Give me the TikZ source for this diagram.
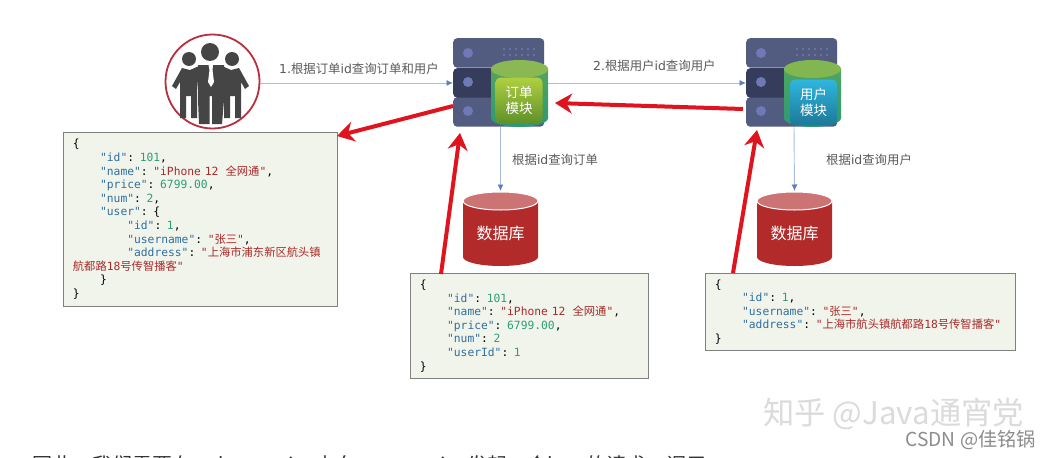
\documentclass[tikz,border=0pt]{standalone}
\usepackage{fontspec}
\setmainfont{DejaVu Sans}
\setmonofont{DejaVu Sans Mono}
\newfontfamily\cjk{Noto Sans CJK SC}
\usetikzlibrary{arrows.meta}
\definecolor{srvlight}{HTML}{525B80}
\definecolor{srvdark}{HTML}{363C5C}
\definecolor{srvdot}{HTML}{7079B5}
\definecolor{dbred}{HTML}{B22A2A}
\definecolor{dbtop}{HTML}{CC7474}
\definecolor{linkblue}{HTML}{A9C0DC}
\definecolor{tipblue}{HTML}{5B82B8}
\definecolor{redarrow}{HTML}{E0141F}
\definecolor{labelgray}{HTML}{5A5A5A}
\definecolor{peoplegray}{HTML}{454545}
\definecolor{ringred}{HTML}{B8303F}
\definecolor{jsonbg}{HTML}{F1F4EB}
\definecolor{jsonkey}{HTML}{2F6F9F}
\definecolor{jsonnum}{HTML}{2E9E73}
\definecolor{jsonstr}{HTML}{A82A2A}
\definecolor{greenhi}{HTML}{B0D040}
\definecolor{greenlo}{HTML}{5F9029}
\definecolor{bluehi}{HTML}{30B6DE}
\definecolor{bluelo}{HTML}{1C7897}
\newcommand{\cn}[1]{{\cjk #1}}
\newcommand{\jkey}[1]{\textcolor{jsonkey}{#1}}
\newcommand{\jnum}[1]{\textcolor{jsonnum}{#1}}
\newcommand{\jstr}[1]{\textcolor{jsonstr}{#1}}
\newcommand{\tab}{\hspace*{27.2pt}}
\begin{document}
\begin{tikzpicture}[x=1pt,y=-1pt,
		srvrow/.style={minimum width=91pt,minimum height=29.5pt,rounded corners=4pt,inner sep=0pt,anchor=north west},
		link/.style={draw=linkblue,line width=0.9pt,-{Latex[color=tipblue,length=6.5pt,width=6pt]}},
		back/.style={draw=redarrow,line width=4pt,-{Stealth[length=17pt,width=20pt]}},
		lbl/.style={text=labelgray,font=\fontsize{12.4}{14}\selectfont,inner sep=0pt},
		modbox/.style={rounded corners=5pt,minimum width=47pt,minimum height=46pt,inner sep=0pt,align=center,text=white,font=\cjk\fontsize{13.5}{16.5}\selectfont},
		jsonbox/.style={draw=gray,fill=jsonbg,line width=0.8pt,anchor=north west,align=left,inner xsep=9.5pt,inner ysep=0pt,font=\ttfamily\fontsize{11.3}{13.6}\selectfont}]
		\useasboundingbox (0,0) rectangle (1050,458);
		\clip (0,0) rectangle (1050,458);
		\fill[white] (0,0) rectangle (1050,458);
		% server racks
		\foreach \srv/\sx in {order/453,user/746} {
			\begin{scope}[xshift=\sx pt]
				\node[srvrow,fill=srvlight] (\srv-top) at (0,38) {};
				\node[srvrow,fill=srvlight] (\srv-bot) at (0,97) {};
				\node[srvrow,fill=srvdark] (\srv-mid) at (0,68) {};
				\foreach \ry in {53,82,111} \fill[srvdot] (15,\ry) circle (5);
				\foreach \dx in {51,57,...,81} {
					\fill[srvdot] (\dx,49) circle (1.2);
					\fill[srvdot] (\dx,55) circle (1.2);
				}
			\end{scope}
		}
		% request links
		\node[circle,draw=ringred,line width=1.8pt,fill=white,minimum size=94pt,inner sep=0pt] (people) at (212.5,81.5) {};
		\draw[link] (people.east |- order-mid.west) -- (order-mid.west);
		\draw[link] (order-mid.east) -- (user-mid.west);
		\node[lbl,anchor=west] (ask1) at (279,69) {1.\cn{根据订单}id\cn{查询订单和用户}};
		\node[lbl,anchor=west] (ask2) at (593,66) {2.\cn{根据用户}id\cn{查询用户}};
		% people
		\fill[peoplegray] (210,52) circle (9) (189,59) circle (7) (232,59) circle (7);
		\fill[peoplegray] (182,68) -- (172,86) -- (176,89) -- (180,82) -- (180,118) -- (186,118) -- (186,96) -- (191,96) -- (191,118) -- (197,118) -- (197,92) -- (199,66) -- (190,70) -- cycle;
		\fill[peoplegray] (239,68) -- (249,86) -- (245,89) -- (241,82) -- (241,118) -- (235,118) -- (235,96) -- (230,96) -- (230,118) -- (224,118) -- (224,92) -- (222,66) -- (231,70) -- cycle;
		\fill[peoplegray] (198,65) -- (224,65) -- (224,100) -- (222,124) -- (212,124) -- (212,96) -- (209.5,96) -- (209.5,124) -- (199,124) -- (198,100) -- cycle;
		\fill[white] (208.5,65) -- (213,65) -- (212.5,70) -- (214,82) -- (211,87) -- (208,82) -- (209.5,70) -- cycle;
		% modules
		\foreach \srv/\sx/\ctop/\cbody/\cbase in {order/491/8AB852/55A35E/2C9A72,user/784/82B650/4FA564/2C9A72} {
			\definecolor{ctopc}{HTML}{\ctop}
			\definecolor{cbodyc}{HTML}{\cbody}
			\definecolor{cbasec}{HTML}{\cbase}
			\begin{scope}[xshift=\sx pt]
				\path[top color=cbodyc,bottom color=cbasec] (0,69) -- (0,118) arc[x radius=28.5,y radius=9,start angle=180,end angle=0] -- (57,69) -- cycle;
				\fill[ctopc] (28.5,69) ellipse (28.5 and 9);
			\end{scope}
		}
		\node[modbox,top color=greenhi,bottom color=greenlo,draw=none] (ordermod) at (519,100.5) {\cn{订单}\\\cn{模块}};
		\node[modbox,top color=bluehi,bottom color=bluelo,draw=none] (usermod) at (813.5,102.5) {\cn{用户}\\\cn{模块}};
		% databases
		\foreach \dbn/\dx in {order/463,user/757} {
			\begin{scope}[xshift=\dx pt]
				\fill[dbred] (0,201) -- (0,257) arc[x radius=37.5,y radius=9,start angle=180,end angle=0] -- (75,201) -- cycle;
				\draw[white,line width=1pt,fill=dbtop] (37.5,201) ellipse (37.5 and 9);
				\node[text=white,inner sep=0pt,font=\cjk\fontsize{16}{18}\selectfont] (\dbn-db) at (37.5,233) {数据库};
				\coordinate (\dbn-dbtop) at (37.5,191);
			\end{scope}
		}
		\coordinate (orderout) at (500.5,127);
		\coordinate (userout) at (794,127);
		\draw[link] (orderout) -- (order-dbtop);
		\draw[link] (userout) -- (user-dbtop);
		\node[lbl,anchor=west] (query1) at (512,160) {\cn{根据}id\cn{查询订单}};
		\node[lbl,anchor=west] (query2) at (826,160) {\cn{根据}id\cn{查询用户}};
		% json boxes
		\node[jsonbox,text width=255pt,minimum height=174pt] (full) at (63,132) {\{\\
			\tab\jkey{"id"}: \jnum{101},\\
			\tab\jkey{"name"}: \jstr{"iPhone 12 \hspace{3.5pt}\cn{全网通}"},\\
			\tab\jkey{"price"}: \jnum{6799.00},\\
			\tab\jkey{"num"}: \jnum{2},\\
			\tab\jkey{"user"}: \{\\
			\tab\tab\jkey{"id"}: \jnum{1},\\
			\tab\tab\jkey{"username"}: \jstr{"\cn{张三}"},\\
			\tab\tab\jkey{"address"}: \jstr{"\cn{上海市浦东新区航头镇}}\\
			\jstr{\cn{航都路}18\cn{号传智播客}"}\\
			\tab\}\\
			\}};
		\node[jsonbox,text width=219pt,minimum height=105pt] (orderjson) at (410,273) {\{\\
			\tab\jkey{"id"}: \jnum{101},\\
			\tab\jkey{"name"}: \jstr{"iPhone 12 \hspace{3.5pt}\cn{全网通}"},\\
			\tab\jkey{"price"}: \jnum{6799.00},\\
			\tab\jkey{"num"}: \jnum{2}\\
			\tab\jkey{"userId"}: \jnum{1}\\
			\}};
		\node[jsonbox,text width=291pt,minimum height=77pt] (userjson) at (705,273) {\{\\
			\tab\jkey{"id"}: \jnum{1},\\
			\tab\jkey{"username"}: \jstr{"\cn{张三}"},\\
			\tab\jkey{"address"}: \jstr{"\cn{上海市航头镇航都路}18\cn{号传智播客}"}\\
			\}};
		% returned data
		\coordinate (userback) at (743,109);
		\coordinate (orderin) at (555,103);
		\coordinate (orderback) at (453,106);
		\coordinate (fulltip) at (337,136);
		\coordinate (orderfrom) at (441,274);
		\coordinate (ordertip) at (460,133);
		\coordinate (userfrom) at (733,273);
		\coordinate (usertip) at (757,130);
		\draw[back] (userback) -- (orderin);
		\draw[back] (orderback) -- (fulltip);
		\draw[back] (orderfrom) -- (ordertip);
		\draw[back] (userfrom) -- (usertip);
		% watermarks and cut off line
		\node[text=black!14,inner sep=0pt,anchor=west,font=\cjk\fontsize{31.3}{34}\selectfont] (zhihu) at (763,414) {知乎 @Java通宵党};
		\node[text=black!45,inner sep=0pt,anchor=east,font=\cjk\fontsize{19.2}{22}\selectfont] (csdn) at (1036,440) {CSDN @佳铭锅};
		\node[text=black!80,inner sep=0pt,anchor=base west,font=\cjk\fontsize{20}{24}\selectfont] (cutline) at (32,472) {因此，我们需要在order-service中向user-service发起一个http的请求，调用};
	\end{tikzpicture}
\end{document}
